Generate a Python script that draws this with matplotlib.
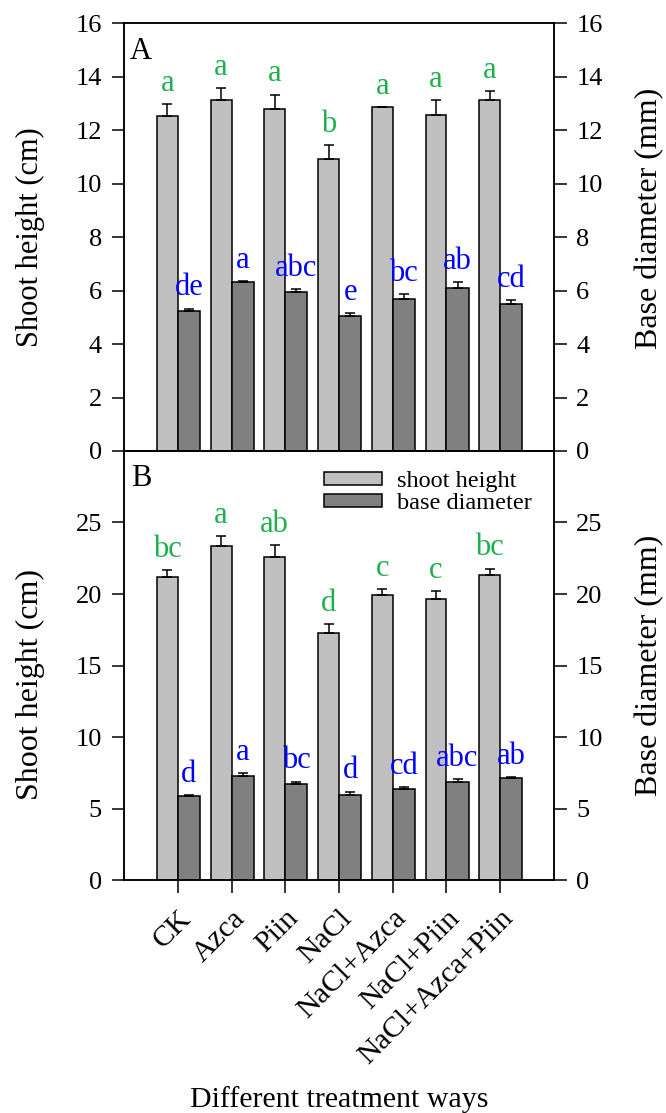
import matplotlib
matplotlib.use("Agg")
import matplotlib.pyplot as plt
import matplotlib.patches as mpatches
import numpy as np

plt.rcParams['font.family'] = ['Liberation Serif', 'DejaVu Serif']

treatments = ['CK', 'Azca', 'Piin', 'NaCl', 'NaCl+Azca', 'NaCl+Piin', 'NaCl+Azca+Piin']

# panel A
height_a = [12.53, 13.14, 12.81, 10.92, 12.86, 12.58, 13.14]
height_a_err = [0.44, 0.43, 0.52, 0.51, 0.0, 0.55, 0.33]
height_a_sig = ['a', 'a', 'a', 'b', 'a', 'a', 'a']
diam_a = [5.23, 6.32, 5.94, 5.05, 5.70, 6.09, 5.50]
diam_a_err = [0.10, 0.03, 0.11, 0.12, 0.18, 0.22, 0.15]
diam_a_sig = ['de', 'a', 'abc', 'e', 'bc', 'ab', 'cd']

# panel B
height_b = [21.19, 23.33, 22.61, 17.27, 19.93, 19.63, 21.35]
height_b_err = [0.49, 0.70, 0.79, 0.61, 0.42, 0.60, 0.42]
height_b_sig = ['bc', 'a', 'ab', 'd', 'c', 'c', 'bc']
diam_b = [5.87, 7.29, 6.69, 5.97, 6.36, 6.88, 7.11]
diam_b_err = [0.07, 0.19, 0.19, 0.21, 0.12, 0.20, 0.09]
diam_b_sig = ['d', 'a', 'bc', 'd', 'cd', 'abc', 'ab']

light = '#c0c0c0'
dark = '#808080'
green = '#1fb04e'
blue = '#0000ff'
bw = 0.39
lw = 1.1

fig = plt.figure(figsize=(6.66, 11.13), dpi=100)
ax_a = fig.add_axes([0.1862, 0.5948, 0.6456, 0.3843])
ax_b = fig.add_axes([0.1862, 0.2093, 0.6456, 0.3855])

x = np.arange(len(treatments))


def style_axis(ax, ylim, yticks):
  ax.set_xlim(-1, 7)
  ax.set_ylim(*ylim)
  ax.set_yticks(yticks)
  ax.set_xticks(x)
  for s in ax.spines.values():
    s.set_linewidth(lw)
  ax.tick_params(axis='both', direction='out', length=9, width=lw,
                 labelsize=19, pad=7)


def panel(ax, hs, hs_err, hs_sig, ds, ds_err, ds_sig, ylim, yticks, tag):
  style_axis(ax, ylim, yticks)
  ax.bar(x - bw / 2, hs, bw, color=light, edgecolor='black', linewidth=lw,
         label='shoot height', zorder=2)
  ax.errorbar(x - bw / 2, hs, yerr=[np.zeros(len(hs)), hs_err], fmt='none',
              ecolor='black', elinewidth=lw, capsize=3.5, capthick=lw, zorder=3)
  for xi, h, e, s in zip(x, hs, hs_err, hs_sig):
    ax.annotate(s, (xi - bw / 2, h + e), xytext=(0, 9.5), textcoords='offset points',
                ha='center', va='baseline', color=green, fontsize=22)

  # right-hand axis carries the diameter bars on the same scale
  tw = ax.twinx()
  style_axis(tw, ylim, yticks)
  tw.bar(x + bw / 2 + 0.01, ds, bw + 0.02, color=dark, edgecolor='black',
         linewidth=lw, label='base diameter', zorder=2)
  tw.errorbar(x + bw / 2 + 0.01, ds, yerr=[np.zeros(len(ds)), ds_err], fmt='none',
              ecolor='black', elinewidth=lw, capsize=3.5, capthick=lw, zorder=3)
  for xi, d, e, s in zip(x, ds, ds_err, ds_sig):
    tw.annotate(s, (xi + bw / 2 + 0.01, d + e), xytext=(0, 9.5), textcoords='offset points',
                ha='center', va='baseline', color=blue, fontsize=22)

  ax.text(0.039, 0.935, tag, transform=ax.transAxes, ha='center', va='center',
          fontsize=22)
  return tw


tw_a = panel(ax_a, height_a, height_a_err, height_a_sig, diam_a, diam_a_err,
             diam_a_sig, (0, 16), np.arange(0, 17, 2), 'A')
tw_b = panel(ax_b, height_b, height_b_err, height_b_sig, diam_b, diam_b_err,
             diam_b_sig, (0, 30), np.arange(0, 26, 5), 'B')

ax_a.set_xticklabels([])
ax_b.set_xticklabels(treatments, rotation=45, ha='right', va='top',
                     rotation_mode='anchor', fontsize=21.5)
ax_b.tick_params(axis='x', pad=9)

ax_a.set_ylabel('Shoot height (cm)', fontsize=22)
ax_a.yaxis.set_label_coords(-0.184, 0.5)
ax_b.set_ylabel('Shoot height (cm)', fontsize=23)
ax_b.yaxis.set_label_coords(-0.184, 0.456)
tw_a.set_ylabel('Base diameter (mm)', fontsize=23)
tw_a.yaxis.set_label_coords(1.188, 0.545)
tw_b.set_ylabel('Base diameter (mm)', fontsize=23)
tw_b.yaxis.set_label_coords(1.188, 0.5)

handles = [mpatches.Patch(facecolor=light, edgecolor='black', linewidth=lw),
           mpatches.Patch(facecolor=dark, edgecolor='black', linewidth=lw)]
tw_b.legend(handles, ['shoot height', 'base diameter'], loc='upper left',
            bbox_to_anchor=(0.465, 0.953), frameon=False, fontsize=17.5,
            handlelength=2.4, handleheight=0.47, handletextpad=0.6,
            labelspacing=0.05, borderpad=0, borderaxespad=0)

fig.text(0.509, 1 - 1100 / 1113, 'Different treatment ways', ha='center',
         va='center', fontsize=21.5)

fig.savefig('out.png', dpi=100)
